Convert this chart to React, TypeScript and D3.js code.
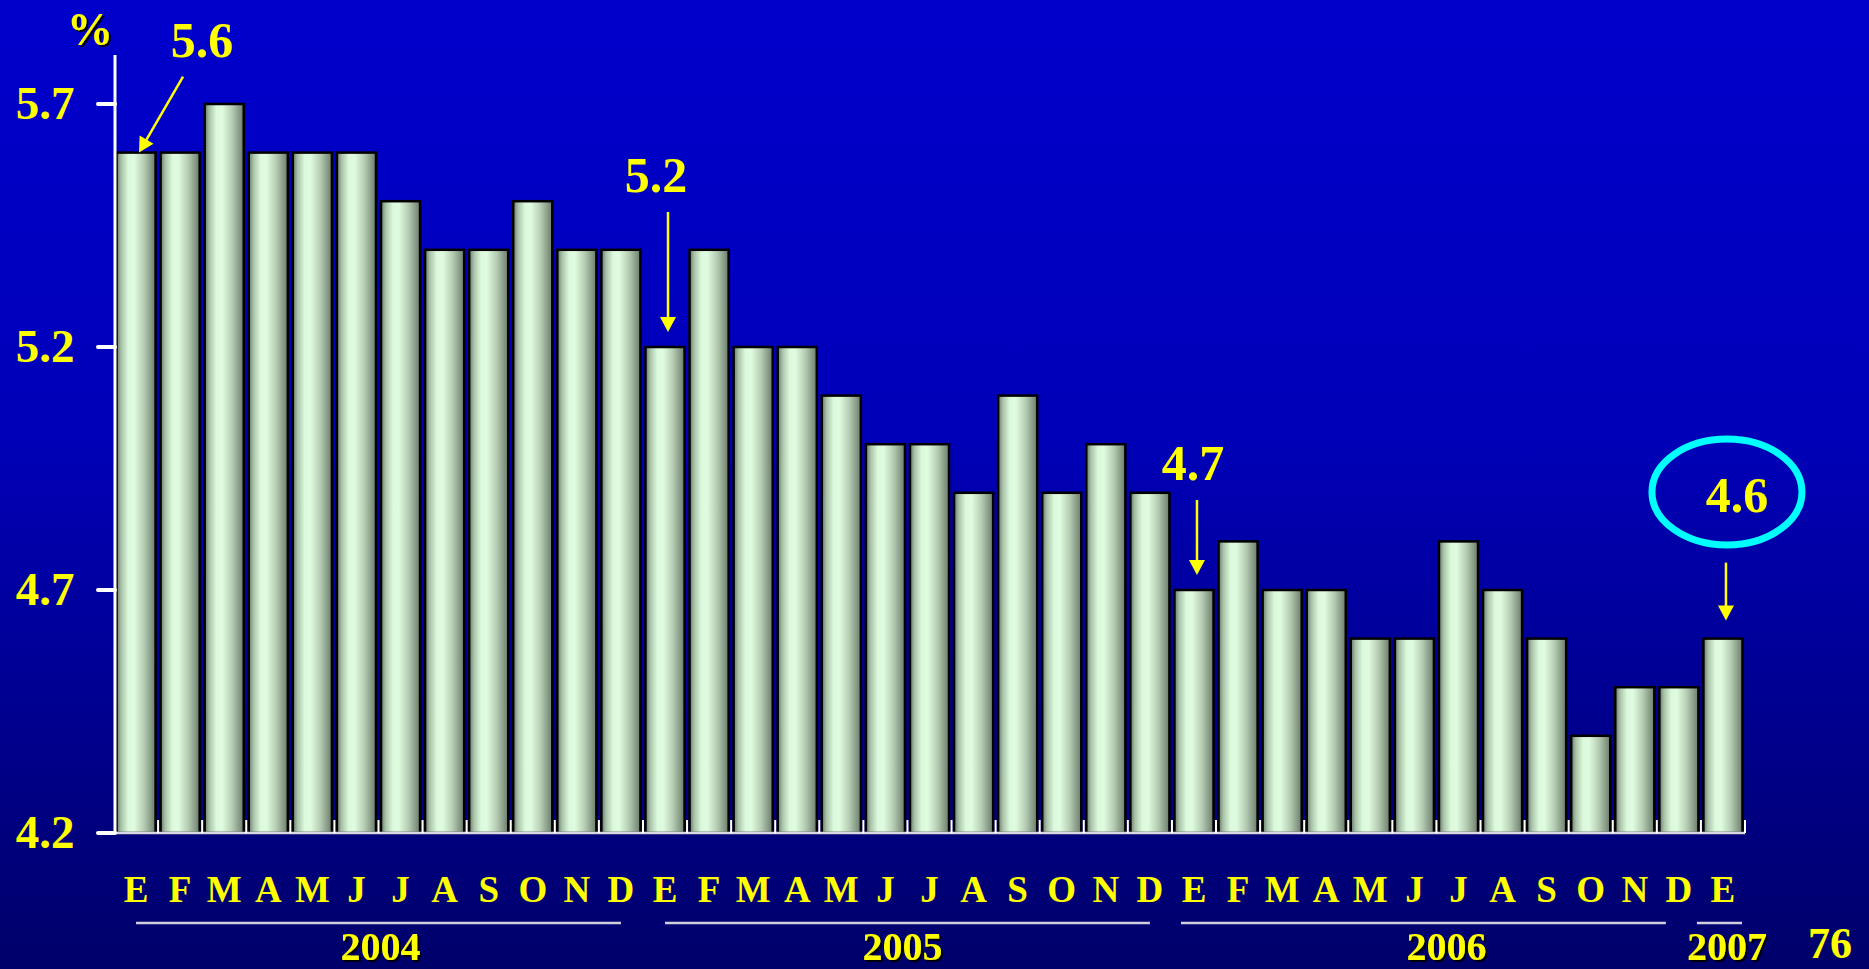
import React, { useEffect } from "react";
import * as d3 from "d3";

const months = [
  "E","F","M","A","M","J","J","A","S","O","N","D",
  "E","F","M","A","M","J","J","A","S","O","N","D",
  "E","F","M","A","M","J","J","A","S","O","N","D",
  "E",
];
const values = [
  5.6, 5.6, 5.7, 5.6, 5.6, 5.6, 5.5, 5.4, 5.4, 5.5, 5.4, 5.4,
  5.2, 5.4, 5.2, 5.2, 5.1, 5.0, 5.0, 4.9, 5.1, 4.9, 5.0, 4.9,
  4.7, 4.8, 4.7, 4.7, 4.6, 4.6, 4.8, 4.7, 4.6, 4.4, 4.5, 4.5,
  4.6,
];
const years = ["2004", "2005", "2006", "2007"];
const yearStart = [0, 12, 24, 36];
const yearEnd = [11, 23, 35, 36];
const yTicks = [4.2, 4.7, 5.2, 5.7];
const callouts = [
  { index: 0, label: "5.6" },
  { index: 12, label: "5.2" },
  { index: 24, label: "4.7" },
  { index: 36, label: "4.6" },
];
const unitLabel = "%";
const pageNumber = "76";

const W = 1869;
const H = 969;
const FONT = "'Liberation Serif', 'Times New Roman', Times, serif";
const YELLOW = "#FFFF00";

export default function App() {
  useEffect(() => {
    document.body.style.margin = "0";
    document.body.style.overflow = "hidden";
  }, []);

  const x = d3
    .scaleBand<number>()
    .domain(values.map((_, i) => i))
    .range([114, 1745])
    .padding(0);
  const y = d3.scaleLinear().domain([4.2, 5.7]).range([833, 104]);
  const bw = x.bandwidth();
  const cx = (i: number) => (x(i) as number) + bw / 2;

  const arrowHead = (tx: number, ty: number, angle: number) => {
    const len = 15;
    const half = 8;
    const bx = tx - Math.cos(angle) * len;
    const by = ty - Math.sin(angle) * len;
    const px = -Math.sin(angle) * half;
    const py = Math.cos(angle) * half;
    const p = d3.path();
    p.moveTo(tx, ty);
    p.lineTo(bx + px, by + py);
    p.lineTo(bx - px, by - py);
    p.closePath();
    return p.toString();
  };

  const renderCallout = (c: { index: number; label: string }) => {
    const bx = cx(c.index);
    const top = y(values[c.index]);
    if (c.index === 0) {
      const sx = bx + 47, sy = top - 76;
      const tx = bx + 3, ty = top;
      const ang = Math.atan2(ty - sy, tx - sx);
      return (
        <g key={c.index}>
          <text x={bx + 66} y={57} textAnchor="middle" fontSize={50} fontWeight="bold" fill={YELLOW} fontFamily={FONT}>{c.label}</text>
          <line x1={sx} y1={sy} x2={tx - Math.cos(ang) * 12} y2={ty - Math.sin(ang) * 12} stroke={YELLOW} strokeWidth={2.5} />
          <path d={arrowHead(tx, ty, ang)} fill={YELLOW} />
        </g>
      );
    }
    if (c.index === 36) {
      const ax = bx + 3;
      return (
        <g key={c.index}>
          <ellipse cx={bx + 4} cy={492} rx={75} ry={53} fill="none" stroke="#00FFFF" strokeWidth={7} />
          <text x={bx + 14} y={512} textAnchor="middle" fontSize={50} fontWeight="bold" fill={YELLOW} fontFamily={FONT}>{c.label}</text>
          <line x1={ax} y1={top - 76} x2={ax} y2={top - 30} stroke={YELLOW} strokeWidth={2.5} />
          <path d={arrowHead(ax, top - 18, Math.PI / 2)} fill={YELLOW} />
        </g>
      );
    }
    const ax = bx + 3;
    const textDy = c.index === 24 ? 110 : 155;
    const lineDy = c.index === 24 ? 90 : 135;
    const textDx = c.index === 24 ? -1 : -9;
    return (
      <g key={c.index}>
        <text x={bx + textDx} y={top - textDy} textAnchor="middle" fontSize={50} fontWeight="bold" fill={YELLOW} fontFamily={FONT}>{c.label}</text>
        <line x1={ax} y1={top - lineDy} x2={ax} y2={top - 27} stroke={YELLOW} strokeWidth={2.5} />
        <path d={arrowHead(ax, top - 15, Math.PI / 2)} fill={YELLOW} />
      </g>
    );
  };

  return (
    <svg width={W} height={H} style={{ position: "absolute", left: 0, top: 0, display: "block" }}>
      <defs>
        <linearGradient id="bg" x1="0" y1="0" x2="0" y2="1">
          <stop offset="0" stopColor="#0000CC" />
          <stop offset="0.45" stopColor="#0000B8" />
          <stop offset="1" stopColor="#00006A" />
        </linearGradient>
        <linearGradient id="bar" x1="0" y1="0" x2="1" y2="0">
          <stop offset="0" stopColor="#66786A" />
          <stop offset="0.12" stopColor="#A8C2A8" />
          <stop offset="0.3" stopColor="#DCF9DC" />
          <stop offset="0.45" stopColor="#E0FCE0" />
          <stop offset="0.7" stopColor="#B6CDB4" />
          <stop offset="1" stopColor="#6A7C6A" />
        </linearGradient>
        <filter id="shadow" x="-10%" y="-10%" width="130%" height="130%">
          <feDropShadow dx="2" dy="2" stdDeviation="0.6" floodColor="#000000" floodOpacity="0.9" />
        </filter>
      </defs>
      <rect x={0} y={0} width={W} height={H} fill="url(#bg)" />

      {values.map((v, i) => (
        <rect
          key={i}
          x={(x(i) as number) + 2.5}
          y={y(v)}
          width={bw - 5}
          height={y(4.2) - y(v)}
          fill="url(#bar)"
          stroke="#000000"
          strokeWidth={2.5}
        />
      ))}

      <line x1={114} y1={833} x2={1745} y2={833} stroke="#D8D8E8" strokeWidth={2.5} />
      {values.map((_, i) => (
        <line key={i} x1={(x(i) as number) + bw} y1={820} x2={(x(i) as number) + bw} y2={833} stroke="#FFFFFF" strokeWidth={2} />
      ))}

      <line x1={115} y1={55} x2={115} y2={834} stroke="#FFFFFF" strokeWidth={3} />
      {yTicks.map((t) => (
        <g key={t}>
          <line x1={98} y1={y(t)} x2={115} y2={y(t)} stroke="#FFFFFF" strokeWidth={4} strokeLinecap="round" />
          <text x={45} y={y(t) + 15} textAnchor="middle" fontSize={47} fontWeight="bold" fill={YELLOW} fontFamily={FONT}>
            {t.toFixed(1)}
          </text>
        </g>
      ))}
      <text x={90} y={45} textAnchor="middle" fontSize={46} fontWeight="bold" fill={YELLOW} fontFamily={FONT} filter="url(#shadow)">
        {unitLabel}
      </text>

      {months.map((m, i) => (
        <text key={i} x={cx(i)} y={902} textAnchor="middle" fontSize={37} fontWeight="bold" fill={YELLOW} fontFamily={FONT}>
          {m}
        </text>
      ))}

      {years.map((yr, k) => {
        const single = yearStart[k] === yearEnd[k];
        const shift = k === 2 ? -13 : 0;
        const x1 = single ? (x(yearStart[k]) as number) - 4 : cx(yearStart[k]) + shift;
        const x2 = single ? (x(yearEnd[k]) as number) + bw - 3 : cx(yearEnd[k]) + shift;
        const mid = single ? cx(yearStart[k]) + 4 : (cx(yearStart[k]) + cx(yearEnd[k])) / 2 + (k === 2 ? 10 : k === 1 ? -5 : 2);
        return (
          <g key={yr}>
            <line x1={x1} y1={923} x2={x2} y2={923} stroke="#D0D0E0" strokeWidth={2.5} />
            <text x={mid} y={960} textAnchor="middle" fontSize={40} fontWeight="bold" fill={YELLOW} fontFamily={FONT} filter="url(#shadow)">
              {yr}
            </text>
          </g>
        );
      })}

      <text x={1830} y={958} textAnchor="middle" fontSize={44} fontWeight="bold" fill={YELLOW} fontFamily={FONT}>
        {pageNumber}
      </text>

      {callouts.map(renderCallout)}
    </svg>
  );
}
